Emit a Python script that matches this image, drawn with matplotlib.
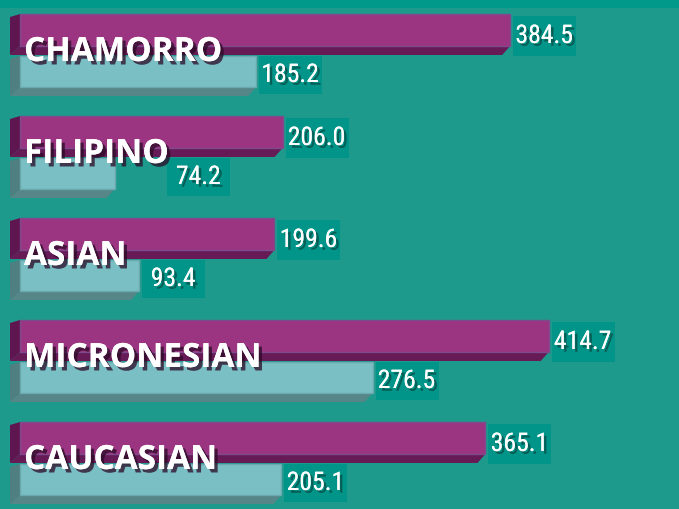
import numpy as np
import matplotlib
matplotlib.use('Agg')
import matplotlib.pyplot as plt
from matplotlib.patches import Rectangle, Polygon
import matplotlib.patheffects as pe
from matplotlib import font_manager

groups = ['CHAMORRO', 'FILIPINO', 'ASIAN', 'MICRONESIAN', 'CAUCASIAN']
series_a = [384.5, 206.0, 199.6, 414.7, 365.1]   # magenta bars
series_b = [185.2, 74.2, 93.4, 276.5, 205.1]     # light teal bars

BG = '#1e9a8c'
BOX = '#009588'

# pick a narrow face for the value labels if one is installed
installed = {f.name for f in font_manager.fontManager.ttflist}
num_family = [n for n in ['Roboto Condensed', 'Liberation Sans Narrow', 'Open Sans Condensed']
              if n in installed] + ['DejaVu Sans']

fig = plt.figure(figsize=(6.79, 5.10), dpi=100)
fig.patch.set_facecolor(BG)
ax = fig.add_axes([0, 0, 1, 1])
ax.set_facecolor(BG)
ax.set_xlim(-15.7, 516.9)
ax.set_ylim(5.0, 0.0)
ax.axis('off')

# pixel -> data helpers (x: 1.275 px per unit, y: 102 px per row)
PX = 1 / 1.275
PY = 1 / 102.0

# darker strip at the very top
ax.axhspan(0, 9 * PY, color='#00998a', lw=0, zorder=0)


def bar3d(y0, h, v, face, side, bottom, edge):
    dx, dy = -10 * PX, 9 * PY
    y1 = y0 + h
    ax.add_patch(Polygon([(0, y0), (dx, y0 + 3 * PY), (dx, y1 + dy), (0, y1)],
                         closed=True, fc=side, ec='none', zorder=2))
    ax.add_patch(Polygon([(0, y1), (v, y1), (v + dx * 0.8, y1 + dy), (dx, y1 + dy)],
                         closed=True, fc=bottom, ec='none', zorder=2))
    ax.add_patch(Rectangle((0, y0), v, h, fc=face, ec=edge, lw=1.0, zorder=3))


label_fx = [pe.withSimplePatchShadow(offset=(2.5, -2.5), shadow_rgbFace='#2a0a25', alpha=0.75),
            pe.Normal()]
value_fx = [pe.withSimplePatchShadow(offset=(2, -2), shadow_rgbFace='#0b3b36', alpha=0.6),
            pe.Normal()]

renderer = fig.canvas.get_renderer()
inv = ax.transData.inverted()

for i, (g, a, b) in enumerate(zip(groups, series_a, series_b)):
    ya, ha = i + 15 * PY, 32 * PY
    yb, hb = i + 57 * PY, 31 * PY
    bar3d(yb, hb, b, '#79bfc4', '#4f7f80', '#568687', '#6aa9ad')
    bar3d(ya, ha, a, '#9b3581', '#5e1550', '#661a56', '#7e4a8e')

    t = ax.text(4 * PX, i + 62 * PY, g, color='white', fontsize=24,
                fontweight='bold', family=['Open Sans', 'DejaVu Sans'],
                va='baseline', ha='left', zorder=6, path_effects=label_fx)
    bb = t.get_window_extent(renderer).transformed(inv)

    for v, y0, hbox in [(a, ya + 2 * PY, 40 * PY), (b, yb, 38 * PY)]:
        x = v + 3 * PX
        if y0 < bb.y0 + 0.05 and x < bb.x1:
            x = max(x, bb.x1 - 2 * PX)
        ax.add_patch(Rectangle((x, y0), 63 * PX, hbox, fc=BOX, ec='none', zorder=4))
        ax.text(x + 31 * PX, y0 + hbox / 2, f'{v:.1f}', color='white', fontsize=18.5,
                family=num_family, fontstretch='condensed',
                ha='center', va='center', zorder=5, path_effects=value_fx)

fig.savefig('out.png', dpi=100, facecolor=fig.get_facecolor())
